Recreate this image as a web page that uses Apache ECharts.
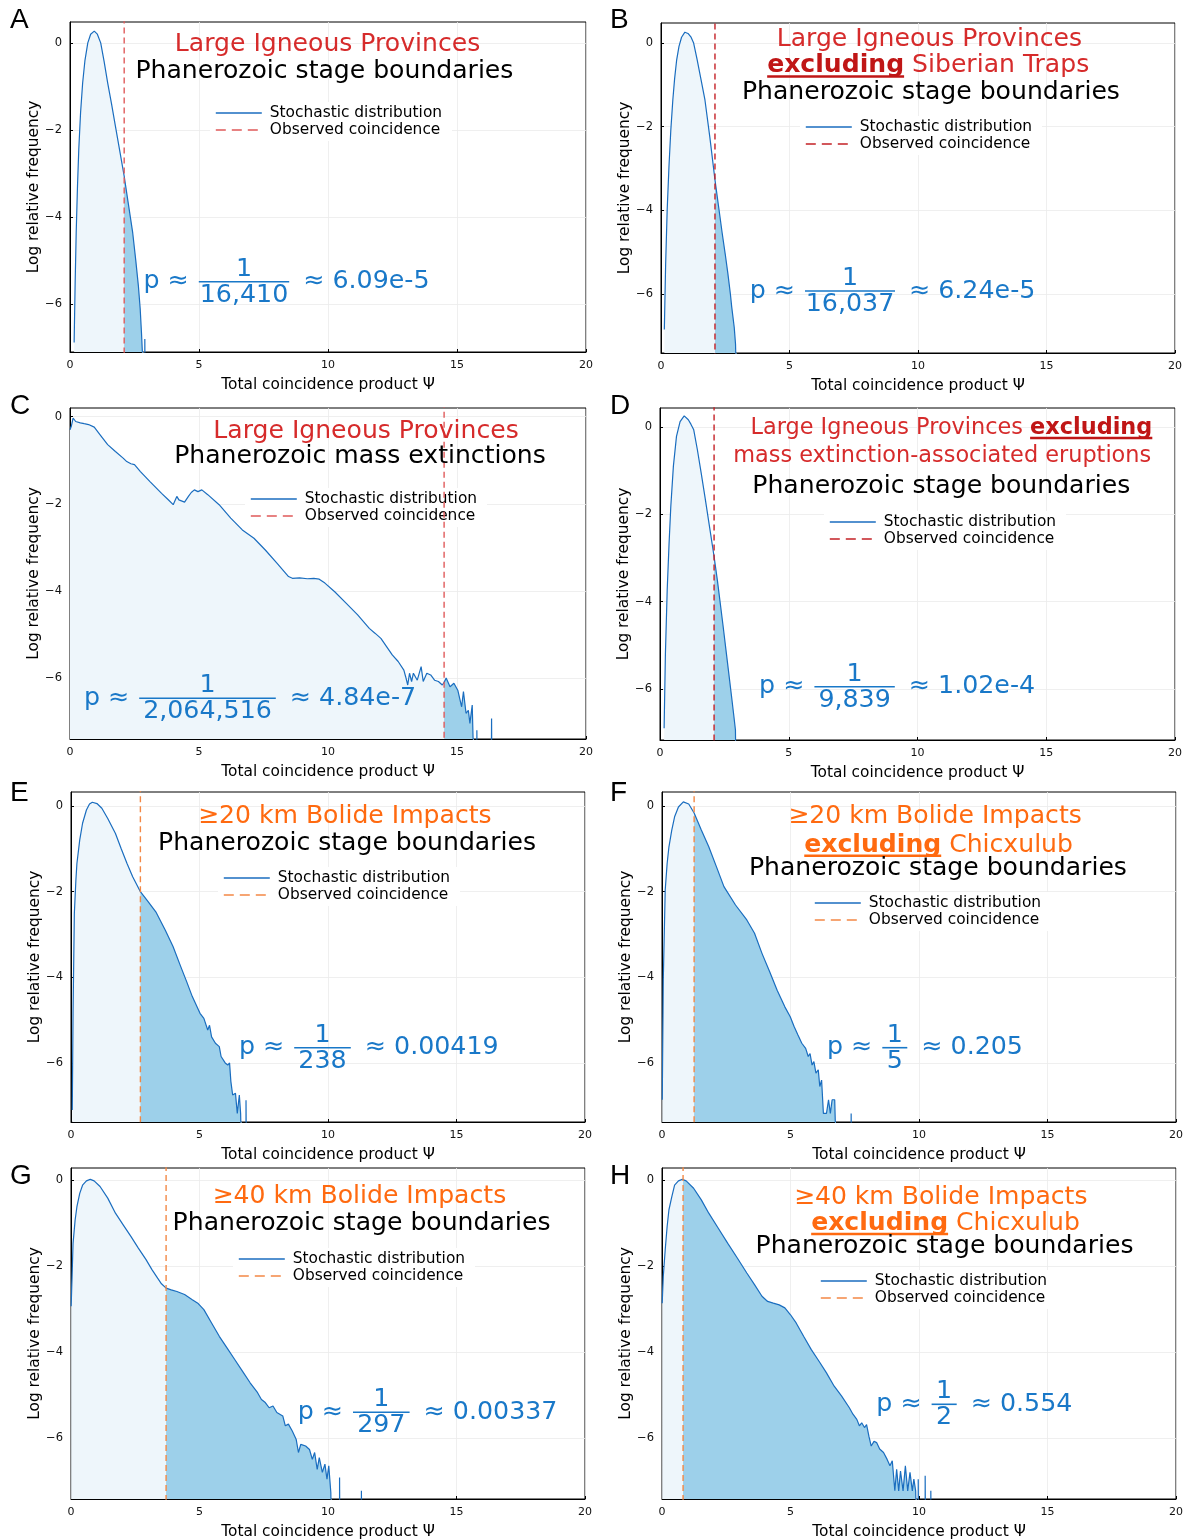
<!DOCTYPE html>
<html>
<head>
<meta charset="utf-8">
<title>Coincidence product distributions</title>
<script src="https://cdn.jsdelivr.net/npm/echarts@6.0.0/dist/echarts.min.js"></script>
<style>
  html, body { margin: 0; padding: 0; background: #fff; }
  #main { width: 1187px; height: 1540px; }
</style>
</head>
<body>
<div id="main"></div>
<script>
// ---- data ----
const xTicks = [0, 5, 10, 15, 20]
const yTicks = [-6, -4, -2, 0]

// observed coincidence product for each panel
const obsA = 2.1, obsB = 2.1, obsC = 14.5, obsD = 2.1
const obsE = 2.7, obsF = 1.25, obsG = 3.7, obsH = 0.82

// p-value annotations
const pDenoms = ['16,410', '16,037', '2,064,516', '9,839', '238', '5', '297', '2']
const pValues = ['6.09e-5', '6.24e-5', '4.84e-7', '1.02e-4', '0.00419', '0.205', '0.00337', '0.554']

// stochastic distributions: [Ψ, log relative frequency], '-' = empty bin
const distA = [[0.16,-6.88],[0.2,-5.5],[0.24,-4.36],[0.29,-3.3],[0.34,-2.45],[0.41,-1.6],[0.49,-0.92],[0.58,-0.4],[0.69,0],[0.8,0.2],[0.94,0.27],[1.06,0.2],[1.19,0],[1.32,-0.42],[1.46,-0.92],[1.61,-1.4],[1.76,-1.91],[1.92,-2.45],[2.1,-3.06],[2.25,-3.65],[2.43,-4.36],[2.55,-5.0],[2.65,-5.58],[2.72,-6.1],[2.77,-6.65],[2.82,-7.3],[2.84,-8],[2.86,'-'],[2.89,'-'],[2.9,-8],[2.9,-6.8],[2.91,-8],[2.93,'-']]
const distB = [[0.13,-6.85],[0.18,-5.3],[0.24,-4.0],[0.31,-2.95],[0.38,-2.1],[0.46,-1.36],[0.53,-0.85],[0.61,-0.4],[0.7,-0.08],[0.8,0.14],[0.93,0.26],[1.05,0.23],[1.17,0.14],[1.27,0.0],[1.4,-0.38],[1.55,-0.85],[1.71,-1.36],[1.9,-2.25],[2.1,-3.27],[2.25,-3.95],[2.38,-4.54],[2.5,-5.05],[2.6,-5.5],[2.7,-6.0],[2.75,-6.3],[2.8,-6.32],[2.85,-6.8],[2.9,-7.2],[2.93,-8]]
const distC = [[0,-0.3],[0.05,-0.22],[0.12,-0.03],[0.22,-0.11],[0.4,-0.14],[0.55,-0.16],[0.72,-0.18],[0.94,-0.24],[1.16,-0.41],[1.46,-0.64],[1.76,-0.8],[2.06,-0.95],[2.2,-1.03],[2.36,-1.08],[2.5,-1.1],[2.73,-1.26],[3.1,-1.49],[3.55,-1.76],[3.8,-1.9],[4.0,-2.02],[4.07,-1.99],[4.14,-1.83],[4.22,-1.91],[4.29,-1.87],[4.44,-1.96],[4.59,-1.83],[4.7,-1.74],[4.82,-1.68],[4.96,-1.72],[5.11,-1.68],[5.34,-1.79],[5.78,-2.02],[6.23,-2.33],[6.68,-2.6],[7.13,-2.79],[7.57,-3.06],[8.02,-3.36],[8.47,-3.67],[8.62,-3.71],[8.9,-3.7],[9.2,-3.72],[9.45,-3.71],[9.66,-3.73],[9.88,-3.82],[10.26,-4.02],[10.7,-4.28],[11.15,-4.55],[11.6,-4.86],[11.82,-4.97],[12.05,-5.09],[12.27,-5.28],[12.49,-5.47],[12.72,-5.62],[12.94,-5.82],[13.01,-5.97],[13.09,-6.16],[13.16,-5.89],[13.24,-6.08],[13.31,-5.89],[13.46,-6.05],[13.61,-5.74],[13.69,-6.08],[13.83,-5.89],[13.98,-5.93],[14.13,-6.05],[14.28,-6.08],[14.43,-6.16],[14.5,-6.1],[14.58,-6.0],[14.73,-6.2],[14.88,-6.12],[15.03,-6.28],[15.18,-6.66],[15.25,-6.31],[15.35,-6.81],[15.44,-6.74],[15.5,-7.04],[15.59,-6.62],[15.65,-8],[15.7,'-'],[15.76,'-'],[15.77,-8],[15.77,-7.2],[15.78,-8],[15.8,'-'],[16.3,'-'],[16.33,-8],[16.34,-6.93],[16.35,-8],[16.4,'-']]
const distD = [[0.16,-6.9],[0.21,-5.2],[0.28,-3.73],[0.35,-2.7],[0.42,-1.82],[0.52,-0.9],[0.64,-0.22],[0.78,0.12],[0.94,0.25],[1.1,0.16],[1.2,0.06],[1.31,-0.07],[1.45,-0.52],[1.6,-1.06],[1.75,-1.62],[1.9,-2.2],[2.1,-2.97],[2.23,-3.52],[2.34,-4.04],[2.45,-4.56],[2.56,-5.1],[2.67,-5.64],[2.78,-6.18],[2.86,-6.58],[2.93,-6.94],[2.95,-8]]
const distE = [[0.05,-7.1],[0.08,-4.84],[0.13,-2.51],[0.19,-1.73],[0.23,-1.34],[0.34,-0.79],[0.45,-0.4],[0.6,-0.09],[0.72,0.05],[0.83,0.09],[1.01,0.06],[1.2,-0.05],[1.43,-0.29],[1.73,-0.64],[1.95,-0.99],[2.18,-1.34],[2.4,-1.65],[2.7,-2.0],[3.0,-2.23],[3.3,-2.47],[3.67,-2.9],[3.97,-3.28],[4.27,-3.75],[4.5,-4.1],[4.72,-4.45],[5.02,-4.84],[5.17,-4.96],[5.32,-5.23],[5.39,-5.12],[5.47,-5.39],[5.62,-5.54],[5.77,-5.62],[5.84,-5.85],[6.0,-6.0],[6.1,-6.05],[6.17,-6.0],[6.22,-6.43],[6.29,-6.75],[6.4,-6.71],[6.47,-7.18],[6.55,-6.75],[6.6,-7.18],[6.63,-8],[6.7,'-'],[6.8,'-'],[6.81,-8],[6.81,-6.87],[6.82,-8],[6.85,'-']]
const distF = [[0.01,-6.86],[0.05,-4.06],[0.125,-1.96],[0.2,-1.34],[0.27,-0.95],[0.38,-0.56],[0.49,-0.25],[0.64,-0.02],[0.83,0.1],[1.04,0.05],[1.25,-0.16],[1.53,-0.56],[1.82,-0.95],[2.12,-1.42],[2.41,-1.88],[2.86,-2.31],[3.3,-2.66],[3.6,-2.97],[3.89,-3.44],[4.19,-3.87],[4.48,-4.3],[4.78,-4.69],[4.99,-4.92],[5.14,-5.15],[5.29,-5.35],[5.44,-5.54],[5.59,-5.66],[5.69,-5.85],[5.76,-5.78],[5.84,-6.05],[5.91,-5.97],[5.99,-6.24],[6.08,-6.16],[6.14,-6.55],[6.21,-6.4],[6.28,-7.18],[6.4,-7.18],[6.48,-6.86],[6.55,-7.18],[6.62,-6.86],[6.72,-6.86],[6.77,-8],[6.8,'-'],[7.34,'-'],[7.36,-8],[7.36,-7.18],[7.37,-8],[7.4,'-']]
const distG = [[0.006,-2.93],[0.05,-2.08],[0.08,-1.47],[0.16,-0.93],[0.23,-0.62],[0.34,-0.31],[0.45,-0.12],[0.6,-0.02],[0.75,0.015],[0.9,-0.02],[1.13,-0.15],[1.43,-0.42],[1.73,-0.77],[2.03,-1.04],[2.33,-1.31],[2.62,-1.58],[2.92,-1.85],[3.15,-2.08],[3.37,-2.28],[3.52,-2.41],[3.7,-2.51],[3.9,-2.55],[4.12,-2.59],[4.42,-2.66],[4.72,-2.78],[4.95,-2.87],[5.17,-3.01],[5.47,-3.32],[5.77,-3.63],[6.07,-3.9],[6.37,-4.17],[6.67,-4.44],[6.97,-4.71],[7.26,-4.94],[7.41,-5.1],[7.56,-5.17],[7.71,-5.29],[7.86,-5.25],[8.01,-5.4],[8.24,-5.48],[8.34,-5.71],[8.46,-5.67],[8.61,-5.83],[8.76,-6.02],[8.85,-6.33],[8.94,-6.14],[9.13,-6.18],[9.28,-6.26],[9.39,-6.49],[9.48,-6.33],[9.58,-6.72],[9.66,-6.45],[9.78,-6.79],[9.88,-6.6],[9.96,-6.95],[10.03,-6.64],[10.11,-7.26],[10.13,-8],[10.2,'-'],[10.44,'-'],[10.45,-8],[10.45,-6.91],[10.46,-8],[10.5,'-'],[11.28,'-'],[11.3,-8],[11.3,-7.22],[11.31,-8],[11.35,'-']]
const distH = [[0.007,-2.86],[0.05,-2.24],[0.125,-1.62],[0.2,-1.08],[0.27,-0.69],[0.38,-0.39],[0.49,-0.12],[0.64,-0.02],[0.79,0.015],[0.82,0.01],[0.94,-0.02],[1.23,-0.19],[1.53,-0.46],[1.82,-0.77],[2.19,-1.12],[2.56,-1.47],[2.93,-1.81],[3.3,-2.16],[3.6,-2.43],[3.89,-2.7],[4.11,-2.82],[4.33,-2.86],[4.56,-2.9],[4.78,-2.97],[5.0,-3.13],[5.22,-3.32],[5.51,-3.63],[5.81,-3.94],[6.11,-4.21],[6.4,-4.48],[6.7,-4.79],[6.99,-5.02],[7.29,-5.29],[7.43,-5.44],[7.58,-5.56],[7.68,-5.71],[7.77,-5.64],[7.88,-5.75],[7.96,-5.68],[8.05,-5.95],[8.14,-6.18],[8.25,-6.07],[8.35,-6.1],[8.47,-6.25],[8.62,-6.33],[8.76,-6.49],[8.87,-6.64],[8.96,-6.52],[9.06,-7.22],[9.13,-6.72],[9.21,-7.22],[9.28,-6.76],[9.38,-7.22],[9.47,-6.64],[9.56,-7.22],[9.65,-6.79],[9.74,-7.22],[9.8,-6.95],[9.87,-7.22],[9.9,-8],[9.93,'-'],[9.96,'-'],[9.97,-8],[9.97,-6.95],[9.98,-8],[10.1,'-'],[10.23,'-'],[10.24,-8],[10.24,-6.87],[10.25,-8],[10.3,'-'],[10.45,'-'],[10.46,-8],[10.46,-7.22],[10.47,-8],[10.5,'-']]

// ---- styles ----
const FONT = '"DejaVu Sans", sans-serif'
const LINE = '#1a6dbf'
const LIGHT = '#eef6fb'
const DARK = '#9dd0ea'
const PBLUE = '#1978c8'
const RED = '#d62b2b'
const DRED = '#c01616'
const ORANGE = '#ff6a10'
const TS = 25.1   // title font size
const TS_SMALL = 22.4
const P_SIZE = 25.3

const panels = [
  { id: 'A', dist: distA, obs: obsA, obsColor: '#e05a5a', y: [-7.1, 0.48],
    grid: { left: 70, top: 22, width: 516, height: 330 }, legend: [210, 102],
    bar: [198.8, 289.2, 281.7], letter: [10, 20.5],
    title: [[327.5, 44.3, TS, [['Large Igneous Provinces', RED]]],
            [324.4, 71, TS, [['Phanerozoic stage boundaries', '#000']]]] },
  { id: 'B', dist: distB, obs: obsB, obsColor: '#c42026', y: [-7.41, 0.48],
    grid: { left: 661, top: 23, width: 514, height: 330 }, legend: [800, 116],
    bar: [805, 895, 291], letter: [610, 20.5],
    title: [[929.4, 39.3, TS, [['Large Igneous Provinces', RED]]],
            [928.2, 65.7, TS, [['excluding', DRED, true], [' Siberian Traps', RED]]],
            [930.9, 92.7, TS, [['Phanerozoic stage boundaries', '#000']]]] },
  { id: 'C', dist: distC, obs: obsC, obsColor: '#e05a5a', y: [-7.4, 0.2],
    grid: { left: 70, top: 408, width: 516, height: 331 }, legend: [245, 488],
    bar: [139.2, 275.8, 698.3], letter: [10, 406.7],
    title: [[366, 431, TS, [['Large Igneous Provinces', RED]]],
            [360, 456.7, TS, [['Phanerozoic mass extinctions', '#000']]]] },
  { id: 'D', dist: distD, obs: obsD, obsColor: '#c42026', y: [-7.17, 0.43],
    grid: { left: 660, top: 408, width: 515, height: 332 }, legend: [824, 511],
    bar: [814.4, 894.8, 686.7], letter: [610, 406.7],
    title: [[951.4, 428.3, TS_SMALL, [['Large Igneous Provinces ', RED], ['excluding', DRED, true]]],
            [942.2, 455.7, TS_SMALL, [['mass extinction-associated eruptions', RED]]],
            [941.3, 486.7, TS, [['Phanerozoic stage boundaries', '#000']]]] },
  { id: 'E', dist: distE, obs: obsE, obsColor: '#f38845', y: [-7.38, 0.33],
    grid: { left: 71, top: 792, width: 514, height: 330 }, legend: [218, 867],
    bar: [294.2, 350.8, 1047.7], letter: [10, 793.5],
    title: [[344.8, 816.7, TS, [['≥20 km Bolide Impacts', ORANGE]]],
            [347, 843.3, TS, [['Phanerozoic stage boundaries', '#000']]]] },
  { id: 'F', dist: distF, obs: obsF, obsColor: '#f38845', y: [-7.38, 0.33],
    grid: { left: 662, top: 792, width: 514, height: 330 }, legend: [809, 892],
    bar: [882.3, 907.3, 1047.7], letter: [610, 793.5],
    title: [[935, 816.7, TS, [['≥20 km Bolide Impacts', ORANGE]]],
            [938.6, 845, TS, [['excluding', ORANGE, true], [' Chicxulub', ORANGE]]],
            [937.9, 868.3, TS, [['Phanerozoic stage boundaries', '#000']]]] },
  { id: 'G', dist: distG, obs: obsG, obsColor: '#f38845', y: [-7.41, 0.28],
    grid: { left: 71, top: 1168, width: 514, height: 332 }, legend: [233, 1248],
    bar: [353, 409.6, 1412.3], letter: [10, 1176.7],
    title: [[359.4, 1196.7, TS, [['≥40 km Bolide Impacts', ORANGE]]],
            [361.6, 1223.3, TS, [['Phanerozoic stage boundaries', '#000']]]] },
  { id: 'H', dist: distH, obs: obsH, obsColor: '#f38845', y: [-7.41, 0.28],
    grid: { left: 662, top: 1168, width: 514, height: 332 }, legend: [815, 1270],
    bar: [931.6, 956.7, 1404.3], letter: [610, 1176.7],
    title: [[940.7, 1197.3, TS, [['≥40 km Bolide Impacts', ORANGE]]],
            [945.5, 1223.3, TS, [['excluding', ORANGE, true], [' Chicxulub', ORANGE]]],
            [944.5, 1246, TS, [['Phanerozoic stage boundaries', '#000']]]] },
]

const ctx = document.createElement('canvas').getContext('2d')
function textW(t, size, bold) {
  ctx.font = (bold ? 'bold ' : '') + size + 'px ' + FONT
  return ctx.measureText(t).width
}

function titleLine(cx, cy, size, segs) {
  const rich = {}
  let text = ''
  const widths = segs.map(s => textW(s[0], size, s[2]))
  const total = widths.reduce((a, b) => a + b, 0)
  const out = []
  let x = cx - total / 2
  segs.forEach((s, k) => {
    rich['s' + k] = { fontSize: size, fontFamily: FONT, fontWeight: s[2] ? 'bold' : 'normal', fill: s[1] }
    text += '{s' + k + '|' + s[0] + '}'
    if (s[2]) {
      // underline under the bold word
      out.push({ type: 'rect', shape: { x: x, y: cy + size * 0.38, width: widths[k], height: 2.5 }, style: { fill: s[1] }, z: 100 })
    }
    x += widths[k]
  })
  out.push({ type: 'text', x: cx, y: cy, z: 100,
    style: { text: text, rich: rich, align: 'center', verticalAlign: 'middle' } })
  return out
}

function pLabel(bar, den, val) {
  const [l, r, y] = bar
  const st = { fontSize: P_SIZE, fontFamily: FONT, fill: PBLUE }
  return [
    { type: 'text', x: l - 10, y: y, z: 100, style: Object.assign({ text: 'p ≈', align: 'right', verticalAlign: 'middle' }, st) },
    { type: 'text', x: (l + r) / 2, y: y - 12.5, z: 100, style: Object.assign({ text: '1', align: 'center', verticalAlign: 'middle' }, st) },
    { type: 'rect', z: 100, shape: { x: l, y: y - 0.8, width: r - l, height: 1.6 }, style: { fill: PBLUE } },
    { type: 'text', x: (l + r) / 2, y: y + 13.5, z: 100, style: Object.assign({ text: den, align: 'center', verticalAlign: 'middle' }, st) },
    { type: 'text', x: r + 14, y: y, z: 100, style: Object.assign({ text: '≈ ' + val, align: 'left', verticalAlign: 'middle' }, st) },
  ]
}

const minus = v => (v < 0 ? '\u2212' + Math.abs(v) : String(v))

const grids = [], xAxes = [], yAxes = [], series = [], legends = [], graphics = []

panels.forEach((p, i) => {
  grids.push(Object.assign({ show: true, borderColor: '#000', borderWidth: 1, backgroundColor: 'transparent' }, p.grid))
  xAxes.push({
    gridIndex: i, type: 'value', min: xTicks[0], max: xTicks[xTicks.length - 1], interval: 5,
    name: 'Total coincidence product Ψ', nameLocation: 'middle', nameGap: 25,
    nameTextStyle: { fontSize: 15.4, fontFamily: FONT, color: '#000' },
    axisLine: { onZero: false, lineStyle: { color: '#000', width: 1 } },
    axisTick: { inside: true, length: 3, lineStyle: { color: '#000' } },
    axisLabel: { fontSize: 11, fontFamily: FONT, color: '#111', margin: 8 },
    splitLine: { show: true, lineStyle: { color: '#ebebeb', width: 0.8 } },
  })
  yAxes.push({
    gridIndex: i, type: 'value', min: p.y[0], max: p.y[1],
    name: 'Log relative frequency', nameLocation: 'middle', nameGap: 29,
    nameTextStyle: { fontSize: 15.4, fontFamily: FONT, color: '#000' },
    axisLine: { onZero: false, lineStyle: { color: '#000', width: 1 } },
    axisTick: { inside: true, length: 3, customValues: yTicks, lineStyle: { color: '#000' } },
    axisLabel: { customValues: yTicks, fontSize: 11.5, fontFamily: FONT, color: '#111', margin: 8, formatter: minus },
    splitLine: { show: true, lineStyle: { color: '#ebebeb', width: 0.8 } },
  })
  const base = { type: 'line', xAxisIndex: i, yAxisIndex: i, symbol: 'none', clip: true, silent: true, animation: false }
  series.push(Object.assign({}, base, { name: 'fill' + p.id, data: p.dist, z: 1,
    lineStyle: { opacity: 0 }, areaStyle: { color: LIGHT, opacity: 1, origin: 'start' } }))
  series.push(Object.assign({}, base, { name: 'tail' + p.id, data: p.dist.filter(d => d[0] >= p.obs), z: 2,
    lineStyle: { opacity: 0 }, areaStyle: { color: DARK, opacity: 1, origin: 'start' } }))
  series.push(Object.assign({}, base, { name: 'dist' + p.id, data: p.dist, z: 3,
    itemStyle: { color: LINE }, lineStyle: { color: LINE, width: 1.2 } }))
  series.push(Object.assign({}, base, { name: 'obs' + p.id, data: [[p.obs, -20], [p.obs, 20]], z: 4,
    itemStyle: { color: p.obsColor }, lineStyle: { color: p.obsColor, width: 1.4, type: [6, 4] } }))
  legends.push({
    orient: 'vertical', left: p.legend[0], top: p.legend[1],
    data: ['dist' + p.id, { name: 'obs' + p.id, lineStyle: { type: [10, 6] } }],
    formatter: n => (n.indexOf('dist') === 0 ? 'Stochastic distribution' : 'Observed coincidence'),
    itemWidth: 46, itemHeight: 14, itemGap: 1, selectedMode: false,
    itemStyle: { opacity: 0, borderWidth: 0 },
    lineStyle: { width: 1.6 },
    backgroundColor: '#fff', padding: [3, 10, 3, 5],
    textStyle: { fontSize: 15.4, fontFamily: FONT, color: '#000', lineHeight: 16, padding: [0, 0, 0, 3] },
  })
  p.title.forEach(t => graphics.push(...titleLine(t[0], t[1], t[2], t[3])))
  graphics.push(...pLabel(p.bar, pDenoms[i], pValues[i]))
  graphics.push({ type: 'text', x: p.letter[0], y: p.letter[1], z: 100,
    style: { text: p.id, fontSize: 28, fontFamily: '"Liberation Sans", Arial, sans-serif', fill: '#000', align: 'left', verticalAlign: 'middle' } })
})

const chart = echarts.init(document.getElementById('main'), null, { renderer: 'canvas' })
chart.setOption({
  backgroundColor: '#fff',
  animation: false,
  grid: grids,
  xAxis: xAxes,
  yAxis: yAxes,
  legend: legends,
  series: series,
  graphic: { elements: graphics },
})
</script>
</body>
</html>
